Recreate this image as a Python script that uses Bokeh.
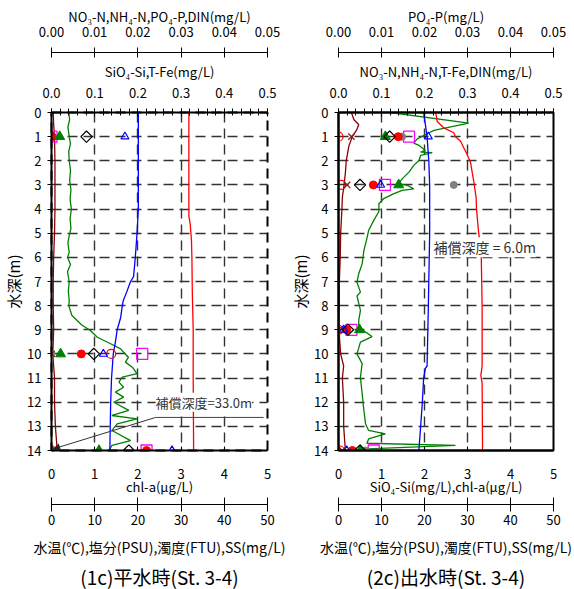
from bokeh.plotting import figure
from bokeh.models import (LinearAxis, Range1d, FixedTicker, SingleIntervalTicker,
                          PrintfTickFormatter, Title, Label, Arrow, NormalHead)
from bokeh.layouts import row
from bokeh.embed import file_html
from bokeh.resources import INLINE

FONT = "Noto Sans CJK JP"

# ------------------------------------------------------------------
# Panel 1 : (1c) 平水時 (St.3-4)
# ------------------------------------------------------------------
# salinity (0-50 scale)
p1_sal_depth = [0, 2, 4.3, 4.6, 5.3, 6, 7.5, 9, 11, 14]
p1_sal = [31.8, 31.8, 31.8, 32.1, 32.4, 32.5, 32.6, 32.8, 32.8, 32.9]
# water temperature (0-50 scale)
p1_tmp_depth = [0, 4, 5, 6, 6.8, 7.0, 7.44, 7.8, 8.0, 8.5, 9.0, 9.5, 10.0, 11.0, 12.0, 13.0, 14.0]
p1_tmp = [20.1, 20.1, 19.8, 19.4, 19.0, 18.3, 17.4, 16.6, 16.4, 16.0, 15.2, 14.8, 14.3, 13.9, 13.7, 13.6, 13.5]
# turbidity (0-50 scale)
p1_tur_depth = [0, 0.5, 1, 2, 3, 4, 5, 6, 7, 8, 9, 10, 11, 12, 13, 13.7, 14]
p1_tur = [0.4, 0.5, 0.7, 0.8, 0.8, 0.8, 0.7, 0.5, 0.4, 0.4, 0.5, 0.3, 0.7, 0.7, 0.9, 1.2, 1.3]
# chl-a (0-5 scale)
p1_chl_depth = [0, 0.3, 0.6, 1.0, 1.3, 1.6, 2.0, 2.4, 2.8, 3.2, 3.6, 4.0, 4.4, 4.8, 5.1, 5.4, 5.8,
                6.0, 6.3, 6.6, 7.0, 7.4, 7.8, 8.0, 8.4, 8.8, 9.03, 9.31, 9.58, 9.79, 9.93, 10.14,
                10.34, 10.55, 10.82, 10.96, 11.17, 11.38, 11.58, 11.79, 12.0, 12.34, 12.55, 12.69,
                12.9, 13.17, 13.59, 13.79, 14.0]
p1_chl = [0.40, 0.42, 0.38, 0.41, 0.44, 0.40, 0.41, 0.44, 0.42, 0.45, 0.43, 0.46, 0.43, 0.45, 0.41,
          0.38, 0.41, 0.37, 0.44, 0.37, 0.41, 0.39, 0.41, 0.40, 0.47, 0.70, 0.90, 1.06, 1.37, 1.60,
          1.67, 1.78, 1.71, 1.87, 1.98, 1.64, 1.56, 1.67, 1.48, 1.67, 1.44, 1.79, 1.40, 1.98, 1.52,
          1.40, 1.83, 1.40, 1.33]
# bottle samples (positions read on the 0-5 axis)
p1_smp_depth = [1, 10, 14]
p1_square = [0.0, 2.10, 2.20]
p1_cross = [0.0, 0.0, 0.09]
p1_ocircle = [0.0, 1.38, 0.0]
p1_fcircle = [0.0, 0.69, 2.20]
p1_gtri = [0.19, 0.21, 1.10]
p1_diamond = [0.81, 0.98, 1.79]
p1_btri = [1.70, 1.20, 2.79]
p1_gray = [0.0, 0.0, 0.0]
p1_caption = "(1c)平水時(St. 3-4)"
p1_comp_text = "補償深度=33.0m"
p1_comp = dict(tx=2.41, ty=12.0, lx0=2.41, lx1=4.91, ly=12.63, ax=0.05, ay=13.93)

# ------------------------------------------------------------------
# Panel 2 : (2c) 出水時 (St.3-4)
# ------------------------------------------------------------------
p2_sal_depth = [0, 0.37, 0.64, 0.84, 1.0, 1.19, 1.45, 1.73, 2.07, 2.49, 2.9, 3.52, 4, 5, 5.5, 6, 8,
                10.5, 10.9, 11.2, 14]
p2_sal = [22.6, 22.95, 24.5, 26.8, 27.2, 28.4, 29.1, 29.9, 30.7, 31.1, 31.5, 32.0, 32.1, 32.6, 33.0,
          33.2, 33.4, 33.4, 33.1, 33.4, 33.5]
p2_tmp_depth = [0, 1, 2, 3, 5, 8, 10.5, 10.6, 11, 12, 13, 14]
p2_tmp = [19.8, 20.6, 21.0, 21.2, 21.2, 20.9, 20.6, 20.2, 19.8, 19.5, 19.1, 18.7]
p2_tur_depth = [0, 0.3, 0.5, 0.7, 1, 1.4, 2, 2.5, 3, 3.5, 4, 5, 6, 7, 8, 9, 9.5, 10, 10.5, 11, 12,
                13, 13.5, 14]
p2_tur = [3.0, 3.6, 4.7, 4.3, 3.2, 2.4, 1.8, 1.6, 1.3, 0.9, 0.8, 0.5, 0.4, 0.2, 0.2, 0.1, 0.3, 0.5,
          1.2, 0.9, 1.2, 1.2, 1.4, 1.6]
p2_chl_depth = [0.0, 0.44, 0.74, 0.88, 1.09, 1.27, 1.36, 1.57, 1.64, 1.66, 1.78, 1.99, 2.19, 2.47,
                2.75, 2.95, 3.02, 3.16, 3.23, 3.36, 3.57, 3.78, 4.1, 4.47, 4.89, 5.3, 5.72, 6.27,
                6.68, 7.03, 7.44, 7.6, 8.2, 8.62, 8.9, 9.28, 9.51, 10.0, 10.4, 10.96, 11.65, 12.34,
                12.9, 13.17, 13.31, 13.52, 13.7, 13.79, 13.93, 14.0]
p2_chl = [1.21, 3.03, 2.22, 2.06, 1.83, 1.75, 1.87, 2.02, 1.91, 2.18, 1.91, 1.87, 1.75, 1.64, 1.48,
          1.40, 1.60, 1.75, 1.48, 1.29, 1.05, 0.94, 0.94, 0.82, 0.70, 0.65, 0.59, 0.55, 0.47, 0.43,
          0.51, 0.43, 0.51, 0.47, 0.47, 0.78, 0.51, 0.43, 0.55, 0.51, 0.55, 0.59, 0.63, 0.70, 1.09,
          0.70, 0.66, 2.72, 0.67, 0.58]
p2_smp_depth = [1, 3, 9, 14]
p2_square = [1.64, 1.08, 0.30, 0.82]
p2_cross = [0.30, 0.20, 0.0, 0.09]
p2_ocircle = [0.0, 0.06, 0.0, 0.03]
p2_fcircle = [1.39, 0.81, 0.19, 0.32]
p2_gtri = [1.09, 1.40, 0.49, 0.51]
p2_diamond = [1.19, 0.50, 0.22, 0.50]
p2_btri = [2.09, 0.98, 0.12, 0.19]
p2_gray = [1.48, 2.68, 0.19, 0.63]
p2_caption = "(2c)出水時(St. 3-4)"
p2_comp_text = "補償深度 = 6.0m"
p2_comp = dict(tx=2.21, ty=5.58)

chl_ticks = [0, 1, 2, 3, 4, 5]
top_ticks = [0.0, 0.01, 0.02, 0.03, 0.04, 0.05]
temp_ticks = [0, 10, 20, 30, 40, 50]
depth_ticks = list(range(0, 15))
grid_x = [1, 2, 3, 4]
grid_y = list(range(1, 14))


def style_axis(ax, size="13px"):
    ax.major_label_text_font = FONT
    ax.major_label_text_font_size = size
    ax.major_label_text_color = "black"
    ax.axis_label_text_font = FONT
    ax.axis_label_text_font_style = "normal"
    ax.axis_label_text_color = "black"
    ax.axis_line_color = "black"
    ax.major_tick_line_color = "black"
    ax.minor_tick_line_color = "black"


def spacer(name, px):
    ax = LinearAxis(x_range_name=name, ticker=FixedTicker(ticks=[]),
                    axis_line_color=None, major_tick_line_color=None,
                    minor_tick_line_color=None, major_tick_in=0, major_tick_out=0,
                    minor_tick_in=0, minor_tick_out=0, major_label_standoff=0,
                    axis_label="\u00a0", axis_label_standoff=0,
                    axis_label_text_font_size=px, axis_label_text_color=None)
    return ax


def make_panel(d, fw, border_right, top_title, mid_title, bottom_title, right_dashed):
    p = figure(frame_width=fw, frame_height=338, x_range=Range1d(0, 5), y_range=Range1d(14, 0),
               toolbar_location=None, output_backend="svg",
               min_border_left=51, min_border_right=border_right,
               min_border_top=112, min_border_bottom=139,
               background_fill_color="white", border_fill_color="white")
    p.extra_x_ranges = {"top": Range1d(0, 0.05), "mid": Range1d(0, 0.5), "temp": Range1d(0, 50)}
    p.outline_line_color = "black"
    p.outline_line_width = 2
    if right_dashed:
        p.outline_line_dash = "10 6"

    # grid
    p.xgrid[0].ticker = FixedTicker(ticks=grid_x)
    p.ygrid[0].ticker = FixedTicker(ticks=grid_y)
    for g in (p.xgrid[0], p.ygrid[0]):
        g.grid_line_color = "#333333"
        g.grid_line_dash = "10 6"
        g.grid_line_width = 1.4

    # y axis
    ya = p.left[0]
    style_axis(ya)
    ya.ticker = FixedTicker(ticks=depth_ticks)
    ya.axis_line_width = 2
    ya.major_tick_out = 4
    ya.major_tick_in = 0
    ya.minor_tick_line_color = None
    ya.major_label_standoff = 6
    ya.axis_label = "水深(m)"
    ya.axis_label_text_font_size = "15px"
    ya.axis_label_standoff = 0

    # bottom chl-a axis
    xa = p.below[0]
    style_axis(xa)
    xa.ticker = FixedTicker(ticks=chl_ticks)
    xa.axis_line_width = 2
    xa.major_tick_out = 0
    xa.major_tick_in = 4
    xa.minor_tick_line_color = None
    xa.major_label_standoff = 18
    xa.axis_label = bottom_title
    xa.axis_label_text_font_size = "13px"
    xa.axis_label_standoff = -5

    # mid top axis (0-0.5)
    ma = LinearAxis(x_range_name="mid", ticker=SingleIntervalTicker(interval=0.1, num_minor_ticks=5),
                    formatter=PrintfTickFormatter(format="%.1f"))
    style_axis(ma)
    ma.axis_line_width = 2
    ma.major_tick_in = 4
    ma.major_tick_out = 4
    ma.minor_tick_in = 3
    ma.minor_tick_out = 4
    ma.major_label_standoff = 11
    ma.axis_label = mid_title
    ma.axis_label_text_font_size = "13px"
    ma.axis_label_standoff = 4
    p.add_layout(ma, "above")
    p.add_layout(spacer("mid", "3px"), "above")

    # top axis (0-0.05)
    ta = LinearAxis(x_range_name="top", ticker=FixedTicker(ticks=top_ticks),
                    formatter=PrintfTickFormatter(format="%.2f"))
    style_axis(ta)
    ta.axis_line_width = 1
    ta.major_tick_in = 5
    ta.major_tick_out = 5
    ta.minor_tick_line_color = None
    ta.major_label_standoff = 11
    ta.axis_label = top_title
    ta.axis_label_text_font_size = "13px"
    ta.axis_label_standoff = -2
    p.add_layout(ta, "above")

    # temperature / salinity axis below
    p.add_layout(spacer("temp", "3px"), "below")
    wa = LinearAxis(x_range_name="temp", ticker=FixedTicker(ticks=temp_ticks))
    style_axis(wa)
    wa.axis_line_width = 1
    wa.major_tick_in = 7
    wa.major_tick_out = 7
    wa.minor_tick_line_color = None
    wa.major_label_standoff = 3
    wa.axis_label = "水温(℃),塩分(PSU),濁度(FTU),SS(mg/L)"
    wa.axis_label_text_font_size = "14px"
    wa.axis_label_standoff = 9
    p.add_layout(wa, "below")

    cap = Title(text=d["caption"], align="center", text_font=FONT, text_font_size="19px",
                text_font_style="normal", text_color="black", standoff=3)
    p.add_layout(cap, "below")

    # profiles
    p.line(d["tur"], d["tur_depth"], x_range_name="temp", line_color="#8B0000", line_width=1.3)
    p.line(d["chl"], d["chl_depth"], line_color="#008000", line_width=1.3)
    p.line(d["tmp"], d["tmp_depth"], x_range_name="temp", line_color="#0000FF", line_width=1.3)
    p.line(d["sal"], d["sal_depth"], x_range_name="temp", line_color="#FF0000", line_width=1.3)

    # bottle sample markers
    sd = d["smp_depth"]
    p.scatter(d["square"], sd, marker="square", size=11, fill_color=None, line_color="#FF00FF", line_width=1.3)
    p.scatter(d["ocircle"], sd, marker="circle", size=9, fill_color=None, line_color="#FF0000", line_width=1.2)
    p.scatter(d["gray"], sd, marker="circle", size=7, fill_color="#808080", line_color="#808080")
    p.scatter(d["fcircle"], sd, marker="circle", size=8, fill_color="#FF0000", line_color="#FF0000")
    p.scatter(d["gtri"], sd, marker="triangle", size=10, fill_color="#008000", line_color="#008000")
    p.scatter(d["diamond"], sd, marker="square", angle=0.785398, size=8, fill_color=None,
              line_color="black", line_width=1.2)
    p.scatter(d["btri"], sd, marker="triangle", size=8, fill_color=None, line_color="#0000FF", line_width=1.2)
    p.scatter(d["cross"], sd, marker="x", size=9, line_color="#8B1A1A", line_width=1.3)
    return p


d1 = dict(sal_depth=p1_sal_depth, sal=p1_sal, tmp_depth=p1_tmp_depth, tmp=p1_tmp,
          tur_depth=p1_tur_depth, tur=p1_tur, chl_depth=p1_chl_depth, chl=p1_chl,
          smp_depth=p1_smp_depth, square=p1_square, cross=p1_cross, ocircle=p1_ocircle,
          fcircle=p1_fcircle, gtri=p1_gtri, diamond=p1_diamond, btri=p1_btri, gray=p1_gray,
          caption=p1_caption)
d2 = dict(sal_depth=p2_sal_depth, sal=p2_sal, tmp_depth=p2_tmp_depth, tmp=p2_tmp,
          tur_depth=p2_tur_depth, tur=p2_tur, chl_depth=p2_chl_depth, chl=p2_chl,
          smp_depth=p2_smp_depth, square=p2_square, cross=p2_cross, ocircle=p2_ocircle,
          fcircle=p2_fcircle, gtri=p2_gtri, diamond=p2_diamond, btri=p2_btri, gray=p2_gray,
          caption=p2_caption)

p1 = make_panel(d1, 216, 20, "NO\u2083-N,NH\u2084-N,PO\u2084-P,DIN(mg/L)", "SiO\u2084-Si,T-Fe(mg/L)",
                "chl-a(\u03bcg/L)", True)
p2 = make_panel(d2, 215, 21, "PO\u2084-P(mg/L)", "NO\u2083-N,NH\u2084-N,T-Fe,DIN(mg/L)",
                "SiO\u2084-Si(mg/L),chl-a(\u03bcg/L)", False)

# compensation depth annotations
c = p1_comp
p1.segment(x0=[c["lx0"]], y0=[c["ly"]], x1=[c["lx1"]], y1=[c["ly"]], line_color="#444444", line_width=1)
p1.add_layout(Arrow(end=NormalHead(size=6, fill_color="#222222", line_color="#222222"),
                    x_start=c["lx0"], y_start=c["ly"], x_end=c["ax"], y_end=c["ay"],
                    line_color="#333333", line_width=1))
p1.add_layout(Label(x=c["tx"], y=c["ty"], text=p1_comp_text, text_font=FONT, text_font_size="13px",
                    text_baseline="middle", text_color="#333333", background_fill_color="white",
                    x_offset=0))
p2.add_layout(Label(x=p2_comp["tx"], y=p2_comp["ty"], text=p2_comp_text, text_font=FONT,
                    text_font_size="14px", text_baseline="middle", text_color="#333333",
                    background_fill_color="white"))

layout = row(p1, p2)
open("out.html", "w").write(file_html(layout, INLINE))
